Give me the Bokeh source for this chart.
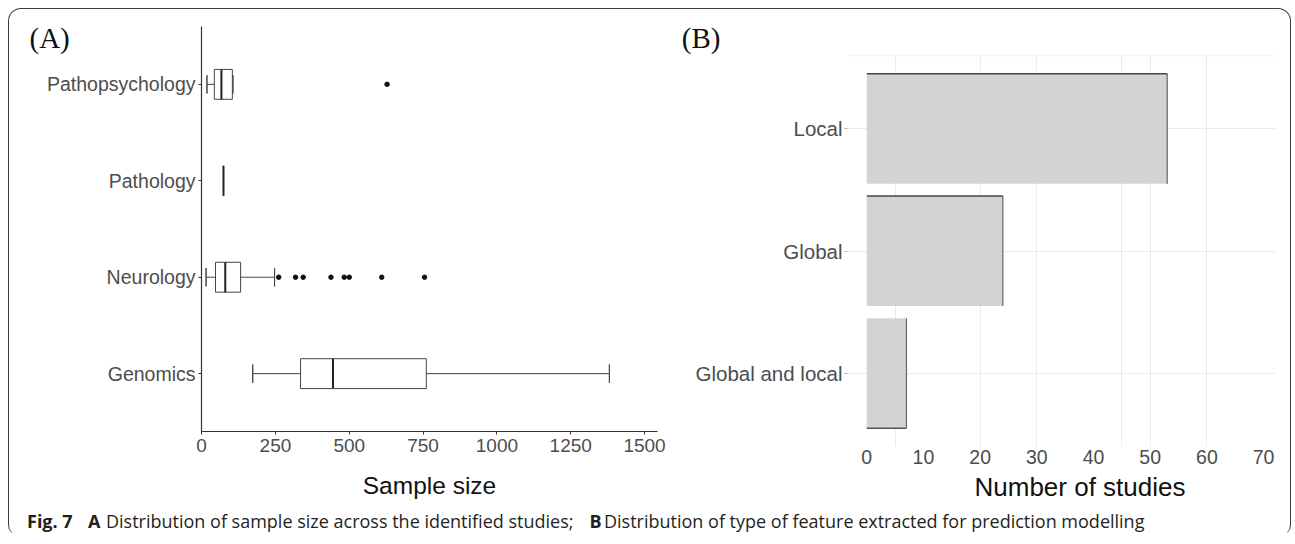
from bokeh.plotting import figure
from bokeh.layouts import row, column
from bokeh.models import FactorRange, Range1d, FixedTicker, Label, Span, ColumnDataSource, Title
from bokeh.transform import dodge
from bokeh.embed import file_html
from bokeh.resources import INLINE

# ---------------- Panel A data: sample size by domain (box plot stats) ----------------
domains = ["Genomics", "Neurology", "Pathology", "Pathopsychology"]
whisker_low = [173, 15, 74, 18]
q1 = [335, 47, 74, 43]
median = [445, 80, 74, 67]
q3 = [761, 132, 74, 104]
whisker_high = [1381, 247, 74, 106]
outlier_domain = ["Neurology"] * 8 + ["Pathopsychology"]
outlier_value = [261, 318, 344, 438, 483, 500, 610, 755, 628]
a_ticks = [0, 250, 500, 750, 1000, 1250, 1500]

# ---------------- Panel B data: type of feature extracted ----------------
feature_types = ["Global and local", "Global", "Local"]
n_studies = [7, 24, 53]
b_ticks = [0, 10, 20, 30, 40, 50, 60, 70]
b_grid = [5, 20, 30, 45, 50, 60]

caption_runs = [
    ("Fig. 7", "bold"),
    ("A", "bold"),
    ("Distribution of sample size across the identified studies;", "normal"),
    ("B", "bold"),
    ("Distribution of type of feature extracted for prediction modelling", "normal"),
]
caption_x = [14.5, 75.4, 93.5, 577.0, 591.5]

SANS = "Liberation Sans"
SERIF = "Liberation Serif"
WA, WB, HP, HC = 657, 618, 494, 29

# ---------------- Panel A ----------------
pA = figure(width=WA, height=HP, output_backend="svg", toolbar_location=None,
            x_range=Range1d(-0.5, 1544),
            y_range=FactorRange(*domains, range_padding=0.1, range_padding_units="absolute"),
            min_border_left=189, min_border_right=12, min_border_top=14, min_border_bottom=75)
pA.outline_line_color = None
pA.grid.grid_line_color = None
pA.background_fill_color = "white"
pA.border_fill_color = "white"

srcA = ColumnDataSource(dict(d=domains, lo=whisker_low, q1=q1, med=median, q3=q3, hi=whisker_high))
pA.segment(x0="lo", x1="q1", y0="d", y1="d", source=srcA, line_color="#444", line_width=1)
pA.segment(x0="q3", x1="hi", y0="d", y1="d", source=srcA, line_color="#444", line_width=1)
pA.hbar(y="d", left="lo", right="lo", height=0.19, source=srcA, fill_color=None, line_color="#444", line_width=1)
pA.hbar(y="d", left="hi", right="hi", height=0.19, source=srcA, fill_color=None, line_color="#444", line_width=1)
pA.hbar(y="d", left="q1", right="q3", height=0.31, source=srcA, fill_color="white", line_color="#444", line_width=1)
pA.hbar(y="d", left="med", right="med", height=0.31, source=srcA, fill_color=None, line_color="#222", line_width=2)
pA.scatter(x=outlier_value, y=outlier_domain, size=4.5, color="#111")

pA.xaxis.ticker = FixedTicker(ticks=a_ticks)
pA.xaxis.axis_label = "Sample size"
for ax in (pA.xaxis[0], pA.yaxis[0]):
    ax.axis_line_color = "#333"
    ax.axis_line_width = 1.2
    ax.major_tick_line_color = "#333"
    ax.major_tick_in = 0
    ax.major_tick_out = 3
    ax.minor_tick_line_color = None
    ax.major_label_text_font = SANS
    ax.major_label_text_color = "#4d4d4d"
pA.xaxis.major_label_text_font_size = "19px"
pA.yaxis.major_label_text_font_size = "19.5px"
pA.xaxis.major_label_standoff = 4
pA.yaxis.major_label_standoff = 3
pA.xaxis.axis_label_text_font = SANS
pA.xaxis.axis_label_text_font_style = "normal"
pA.xaxis.axis_label_text_font_size = "24.5px"
pA.xaxis.axis_label_text_color = "#111"
pA.xaxis.axis_label_standoff = 17

pA.title.text = "(A)"
pA.title.align = "left"
pA.title.offset = -172
pA.title.standoff = -54
pA.title.text_font = SERIF
pA.title.text_font_size = "29px"
pA.title.text_font_style = "normal"
pA.title.text_color = "#111"

# ---------------- Panel B ----------------
pB = figure(width=WB, height=HP, output_backend="svg", toolbar_location=None,
            x_range=Range1d(-3.4, 72.1),
            y_range=FactorRange(*feature_types, range_padding=0.1, range_padding_units="absolute"),
            min_border_left=178, min_border_right=12, min_border_top=43, min_border_bottom=60)
pB.outline_line_color = None
pB.background_fill_color = "white"
pB.border_fill_color = "white"
pB.xgrid.ticker = FixedTicker(ticks=b_grid)
pB.grid.grid_line_color = "#ebebeb"
pB.grid.grid_line_width = 1
pB.add_layout(Span(location=3.098, dimension="width", line_color="#ebebeb", line_width=1))

pB.title.text = "(B)"
pB.title.align = "left"
pB.title.offset = -165.7
pB.title.standoff = 4
pB.title.text_font = SERIF
pB.title.text_font_size = "29px"
pB.title.text_font_style = "normal"
pB.title.text_color = "#111"

srcB = ColumnDataSource(dict(f=feature_types, n=n_studies, zero=[0] * len(n_studies)))
pB.hbar(y="f", left=0, right="n", height=0.9, source=srcB, fill_color="#d3d3d3", line_color=None)
top_src = ColumnDataSource(dict(f=feature_types[1:], n=n_studies[1:], zero=[0, 0]))
bot_src = ColumnDataSource(dict(f=feature_types[:1], n=n_studies[:1], zero=[0]))
pB.segment(x0="zero", x1="n", y0=dodge("f", 0.45, range=pB.y_range), y1=dodge("f", 0.45, range=pB.y_range),
           source=top_src, line_color="#444", line_width=1.5)
pB.segment(x0="zero", x1="n", y0=dodge("f", -0.45, range=pB.y_range), y1=dodge("f", -0.45, range=pB.y_range),
           source=bot_src, line_color="#555", line_width=1.5)
pB.segment(x0="n", x1="n", y0=dodge("f", -0.45, range=pB.y_range), y1=dodge("f", 0.45, range=pB.y_range),
           source=srcB, line_color="#666", line_width=1.2)

pB.xaxis.ticker = FixedTicker(ticks=b_ticks)
for ax in (pB.xaxis[0], pB.yaxis[0]):
    ax.axis_line_color = None
    ax.minor_tick_line_color = None
    ax.major_label_text_font = SANS
    ax.major_label_text_color = "#4d4d4d"
pB.xaxis.major_tick_line_color = None
pB.xaxis.major_tick_out = 0
pB.xaxis.major_label_standoff = 3
pB.yaxis.major_tick_line_color = "#aaa"
pB.yaxis.major_tick_in = 0
pB.yaxis.major_tick_out = 3
pB.yaxis.major_label_standoff = 2
pB.xaxis.major_label_text_font_size = "19.5px"
pB.yaxis.major_label_text_font_size = "20.5px"

# x-axis title of panel B (sits right of the panel centre in the reference)
pB.add_layout(Title(text="Number of studies", align="left", offset=127, standoff=5.5,
                    vertical_align="bottom", text_font=SANS, text_font_style="normal",
                    text_font_size="26px", text_color="#111"), "below")

# ---------------- Caption ----------------
CW = WA + WB
cap = figure(width=CW, height=HC, output_backend="svg", toolbar_location=None,
             x_range=Range1d(0, CW), y_range=Range1d(0, HC), min_border=0)
cap.axis.visible = False
cap.grid.visible = False
cap.outline_line_color = None
cap.border_fill_color = "white"
for (txt, style), x in zip(caption_runs, caption_x):
    cap.add_layout(Label(x=x, y=15, text=txt, text_font="Open Sans", text_font_style=style,
                         text_font_size="18px", text_color="#231f20", text_baseline="alphabetic"))

layout = column(row(column(pA), column(pB)), cap,
                styles={"border": "1.5px solid #3c3c3c", "border-bottom": "none",
                        "border-radius": "13px 13px 10px 10px", "padding": "3px 3px 0px 3px",
                        "margin": "8px 0px 0px 8px"})

open("out.html", "w").write(file_html(layout, INLINE))
